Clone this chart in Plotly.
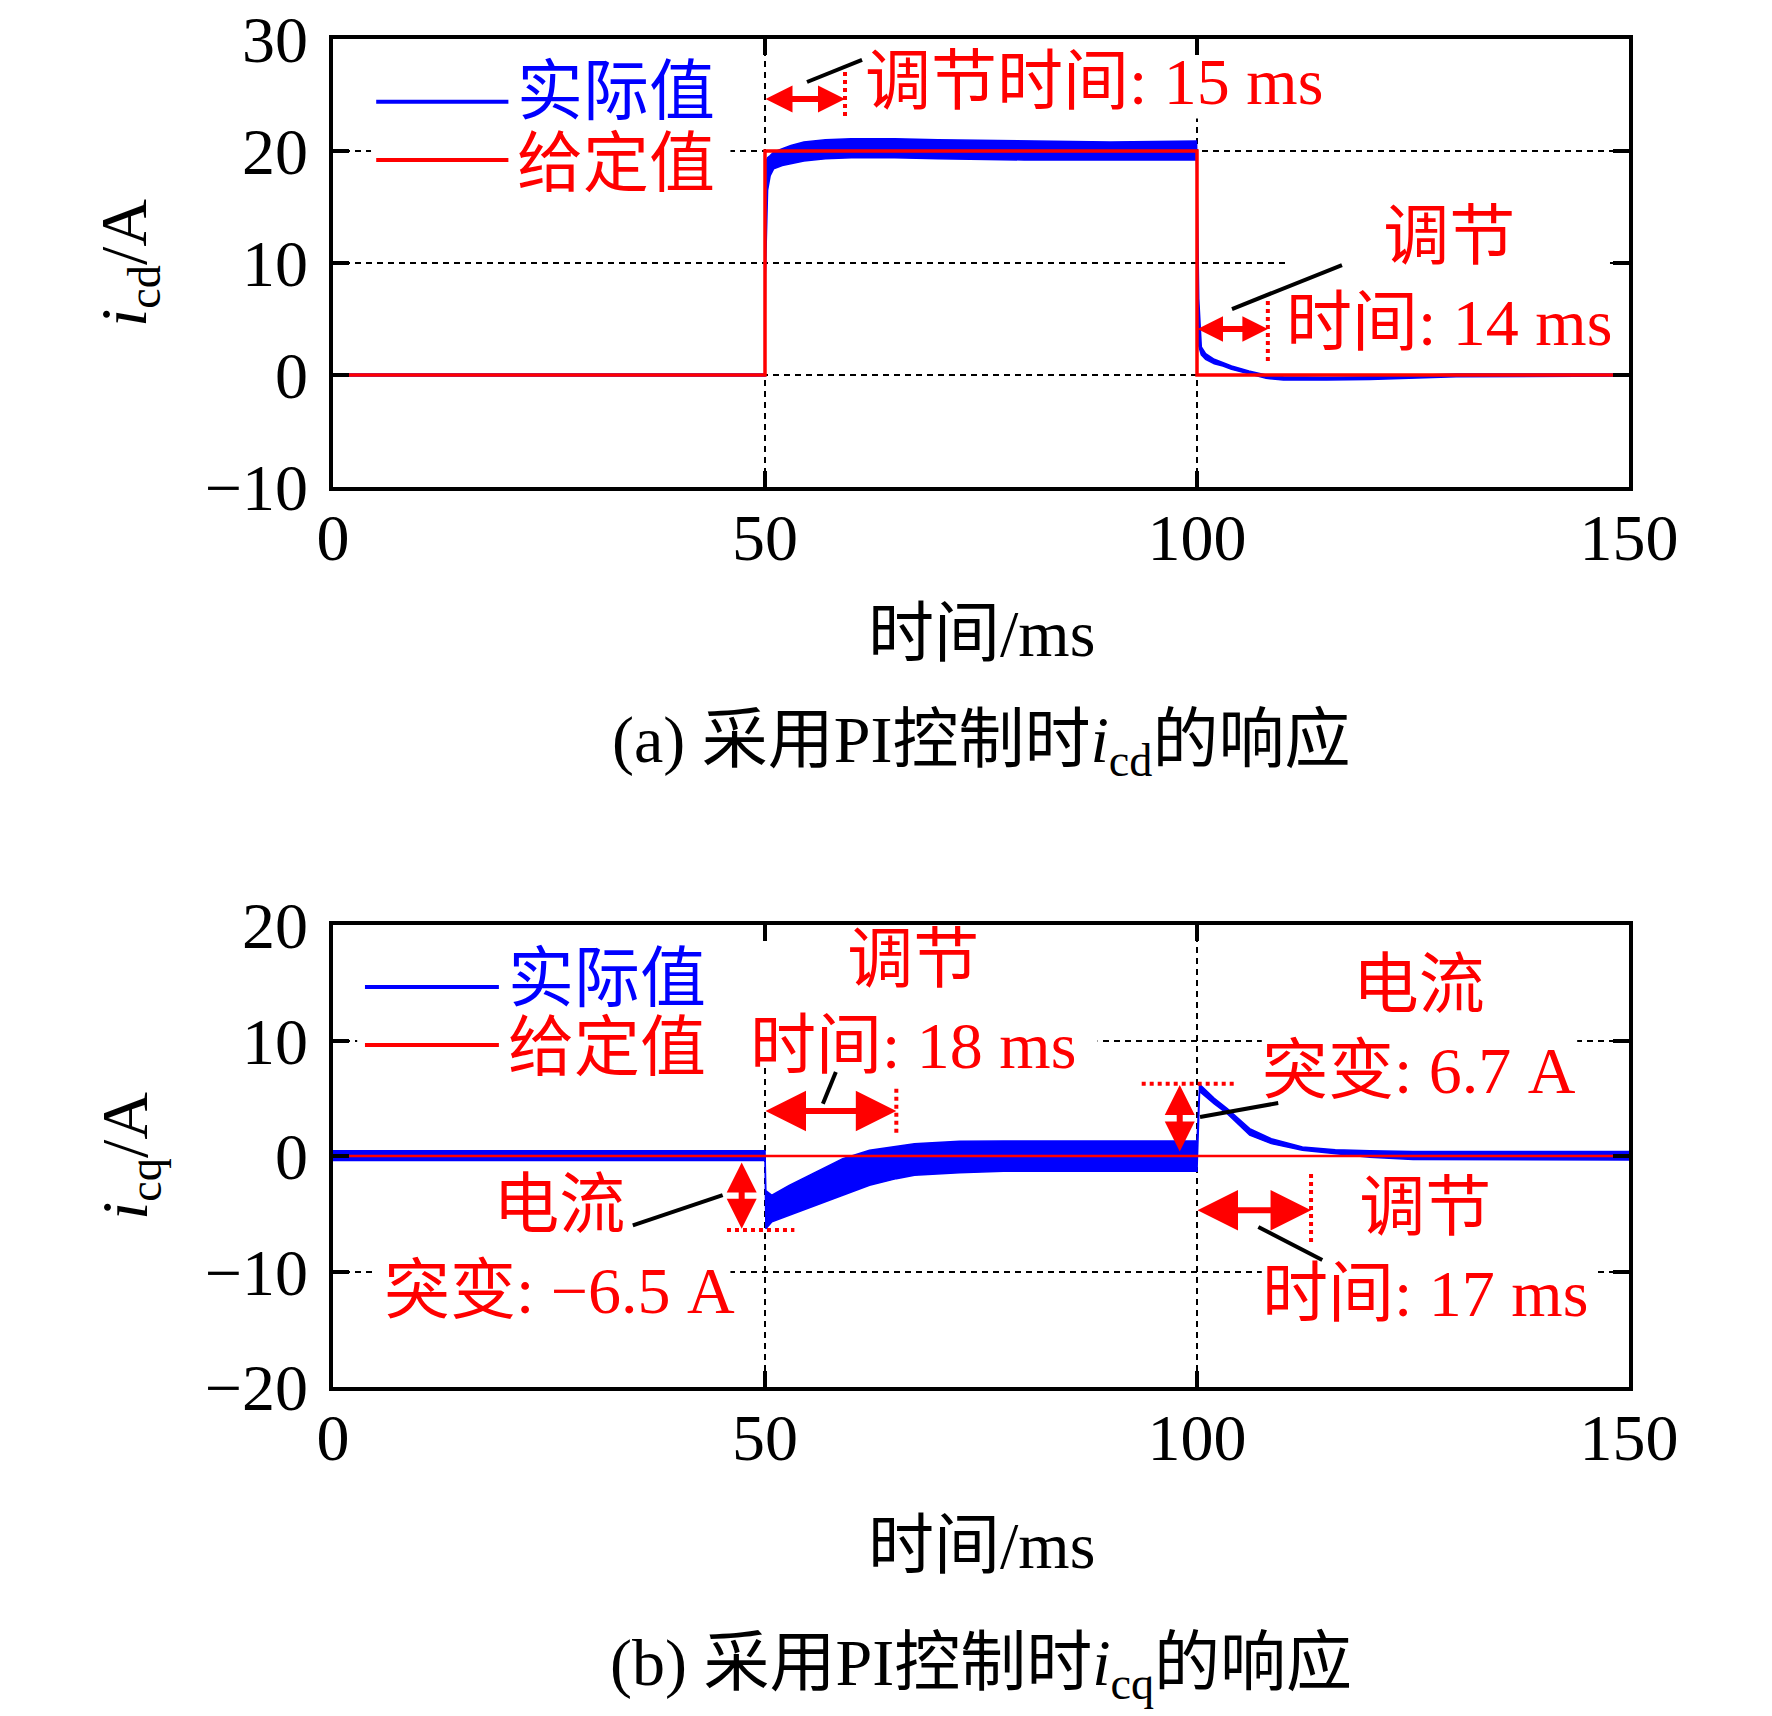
import plotly.graph_objects as go

# --- data (time in ms, current in A) ---
t_ref_d = [0, 50, 50, 100, 100, 150]
i_ref_d = [0, 0, 20, 20, 0, 0]

t_act_d = [0, 50.0, 50.05, 50.3, 50.6, 51.0, 52.0, 53.0, 54.5, 57.0, 60.0, 65.0, 70.0,
           80.0, 90.0, 99.95, 100.2, 100.5, 101.0, 102.0, 103.0, 104.0, 106.0,
           108.0, 110.0, 115.0, 120.0, 125.0, 130.0, 150.0]
i_act_d_hi = [0.1, 0.1, 19.0, 19.4, 19.6, 19.9, 20.2, 20.5, 20.8, 21.0, 21.1, 21.1, 21.0,
              20.9, 20.8, 20.9, 6.8, 2.5, 1.9, 1.4, 1.1, 0.8, 0.35,
              0.0, -0.15, -0.2, -0.15, 0.0, 0.1, 0.1]
i_act_d_lo = [-0.1, -0.1, 9.0, 16.5, 17.8, 18.4, 18.7, 18.9, 19.1, 19.3, 19.4, 19.4, 19.3,
              19.2, 19.2, 19.2, 2.6, 1.8, 1.4, 1.0, 0.8, 0.5, 0.1,
              -0.3, -0.45, -0.45, -0.4, -0.3, -0.15, -0.1]

t_ref_q = [0, 150]
i_ref_q = [0, 0]

t_act_q = [0, 50.0, 50.1, 50.8, 52.8, 55.9, 59.0, 62.1, 65.2, 67.3, 68.3, 72.5, 77.6,
           90.0, 100.0, 100.3, 100.6, 102.0, 103.5, 106.1, 108.6, 112.2, 116.0, 120.0,
           125.0, 150.0]
i_act_q_hi = [0.45, 0.45, -3.0, -3.4, -2.54, -1.39, -0.23, 0.49, 0.8, 1.07, 1.1, 1.27, 1.3,
              1.3, 1.3, 6.2, 6.0, 5.0, 4.1, 2.37, 1.5, 0.78, 0.55, 0.45, 0.4, 0.4]
i_act_q_lo = [-0.4, -0.4, -6.3, -5.7, -5.14, -4.27, -3.4, -2.54, -1.96, -1.67, -1.6, -1.44, -1.33,
              -1.33, -1.33, 5.6, 5.4, 4.5, 3.66, 1.8, 1.07, 0.5, 0.2, -0.1, -0.3, -0.35]

x_ticks = [0, 50, 100, 150]
y_ticks_d = [-10, 0, 10, 20, 30]
y_ticks_q = [-20, -10, 0, 10, 20]
legend_names = ["实际值", "给定值"]

BLUE = "#0000ff"
RED = "#ff0000"
FONT = "Liberation Serif, Times New Roman, Noto Sans CJK SC, serif"
W, H = 1772, 1716
OFF = 6  # page body margin (partly compensated)


def px(x):
    return (x - OFF) / W


def py(y):
    return 1 - (y - OFF) / H


fig = go.Figure()


def band(t, hi, lo, xa, ya):
    fig.add_trace(go.Scatter(
        x=t + t[::-1], y=hi + lo[::-1], xaxis=xa, yaxis=ya,
        fill="toself", fillcolor=BLUE, mode="lines",
        line=dict(color=BLUE, width=1.5), showlegend=False, hoverinfo="skip"))


band(t_act_d, i_act_d_hi, i_act_d_lo, "x", "y")
fig.add_trace(go.Scatter(x=t_ref_d, y=i_ref_d, mode="lines", xaxis="x", yaxis="y",
                         line=dict(color=RED, width=3.5), showlegend=False))
band(t_act_q, i_act_q_hi, i_act_q_lo, "x2", "y2")
fig.add_trace(go.Scatter(x=t_ref_q, y=i_ref_q, mode="lines", xaxis="x2", yaxis="y2",
                         line=dict(color=RED, width=2.5), showlegend=False))

axis_common = dict(
    showline=True, linecolor="black", linewidth=3.5, mirror="ticks",
    ticks="inside", ticklen=16, tickwidth=3.5, tickcolor="black",
    showgrid=True, gridcolor="black", gridwidth=1.5, griddash="6px,5px",
    zeroline=False, automargin=False, ticklabeloverflow="allow",
    tickfont=dict(family=FONT, size=66, color="black"),
)
xdom = [px(331), px(1627)]
fig.update_layout(
    template="none",
    width=W, height=H, margin=dict(l=0, r=0, t=0, b=0),
    paper_bgcolor="white", plot_bgcolor="white",
    xaxis=dict(axis_common, domain=xdom, range=[0, 150], tickvals=x_ticks, anchor="y",
               ticklabelstandoff=-10),
    yaxis=dict(axis_common, domain=[py(485), py(37)], range=[-10, 30],
               tickvals=y_ticks_d, anchor="x", ticklabelstandoff=8),
    xaxis2=dict(axis_common, domain=xdom, range=[0, 150], tickvals=x_ticks, anchor="y2",
                ticklabelstandoff=-10),
    yaxis2=dict(axis_common, domain=[py(1385), py(923)], range=[-20, 20],
                tickvals=y_ticks_q, anchor="x2", ticklabelstandoff=8),
)

shapes = []
annots = []


def blank(x0, x1, y0, y1, xr, yr):
    # white patch that hides the grid behind a label, but not the traces
    shapes.append(dict(type="rect", x0=x0, x1=x1, y0=y0, y1=y1, xref=xr, yref=yr,
                       fillcolor="white", line=dict(width=0), layer="between"))


def txt(text, x, y, xr, yr, color=RED, size=66, xanchor="center", angle=0):
    annots.append(dict(text=text, x=x, y=y, xref=xr, yref=yr, showarrow=False,
                       xanchor=xanchor, yanchor="middle", textangle=angle, align="center",
                       font=dict(family=FONT, size=size, color=color), borderpad=0))


def seg(x0, y0, x1, y1, xr, yr, color="black", width=4, dash="solid"):
    shapes.append(dict(type="line", x0=x0, y0=y0, x1=x1, y1=y1, xref=xr, yref=yr,
                       line=dict(color=color, width=width, dash=dash), layer="above"))


def darrow(x0, y0, x1, y1, xr, yr, size):
    annots.append(dict(text="", x=x1, y=y1, ax=x0, ay=y0, xref=xr, yref=yr,
                       axref=xr, ayref=yr, showarrow=True, arrowside="end+start",
                       arrowhead=2, startarrowhead=2, arrowwidth=6,
                       arrowsize=size, startarrowsize=size, arrowcolor=RED,
                       standoff=0, startstandoff=0, borderpad=0))


# legends (long line symbols, white box hiding grid)
for xr, yr, box, lines, names_y, xl in [
    ("x", "y", (4.4, 46.0, 15.45, 28.8), (24.4, 19.2), (25.3, 18.9), (5.0, 20.3)),
    ("x2", "y2", (2.8, 46.0, 6.84, 18.96), (14.63, 9.6), (15.4, 9.4), (3.7, 19.2)),
]:
    blank(box[0], box[1], box[2], box[3], xr, yr)
    for yv, c in zip(lines, [BLUE, RED]):
        seg(xl[0], yv, xl[1], yv, xr, yr, color=c, width=4)
    for name, yv, c in zip(legend_names, names_y, [BLUE, RED]):
        txt(name, xl[1] + 0.9, yv, xr, yr, color=c, size=66, xanchor="left")

# upper plot annotations
blank(61.4, 114.5, 22.9, 29.6, "x", "y")
txt("调节时间: 15 ms", 61.4, 26.2, "x", "y", xanchor="left")
seg(54.86, 26.16, 61.23, 28.13, "x", "y")
darrow(50, 24.64, 59.26, 24.64, "x", "y", 0.9)
seg(59.26, 27.05, 59.26, 22.77, "x", "y", color=RED, width=4, dash="dot")

blank(110.5, 147.8, 2.4, 14.3, "x", "y")
txt("调节<br>时间: 14 ms", 129.2, 8.5, "x", "y")
seg(104.05, 5.89, 116.78, 9.82, "x", "y")
darrow(100, 4.1, 108.2, 4.1, "x", "y", 0.85)
seg(108.2, 6.6, 108.2, 1.25, "x", "y", color=RED, width=4, dash="dot")

# lower plot annotations
blank(45.0, 88.5, 8.0, 19.5, "x2", "y2")
txt("调节<br>时间: 18 ms", 67.1, 13.3, "x2", "y2")
seg(58.2, 7.27, 56.7, 4.53, "x2", "y2")
darrow(50, 3.9, 65.2, 3.9, "x2", "y2", 1.35)
seg(65.2, 5.83, 65.2, 1.79, "x2", "y2", color=RED, width=4, dash="dot")

blank(107.5, 144.0, 6.0, 16.0, "x2", "y2")
txt("电流<br>突变: 6.7 A", 125.7, 11.1, "x2", "y2")
seg(100.35, 3.38, 109.4, 4.59, "x2", "y2")
darrow(98.0, 0.35, 98.0, 6.15, "x2", "y2", 1.0)
seg(93.6, 6.26, 104.5, 6.26, "x2", "y2", color=RED, width=4, dash="dot")

blank(4.8, 46.0, -13.0, -3.0, "x2", "y2")
txt("电流<br>突变: −6.5 A", 26.2, -7.9, "x2", "y2")
seg(34.7, -6.0, 45.1, -3.38, "x2", "y2")
darrow(47.3, -0.52, 47.3, -6.3, "x2", "y2", 1.0)
seg(45.6, -6.4, 53.4, -6.4, "x2", "y2", color=RED, width=4, dash="dot")

blank(107.5, 146.0, -13.0, -3.0, "x2", "y2")
txt("调节<br>时间: 17 ms", 126.4, -8.2, "x2", "y2")
seg(107.1, -6.15, 114.5, -9.0, "x2", "y2")
darrow(100, -4.7, 113.2, -4.7, "x2", "y2", 1.35)
seg(113.2, -1.56, 113.2, -7.53, "x2", "y2", color=RED, width=4, dash="dot")

# axis titles and captions
txt("<i>i</i><sub>cd</sub>/A", px(127), py(261), "paper", "paper", color="black", angle=-90)
txt("<i>i</i><sub>cq</sub>/A", px(127), py(1154), "paper", "paper", color="black", angle=-90)
txt("时间/ms", px(979), py(631), "paper", "paper", color="black")
txt("时间/ms", px(979), py(1543), "paper", "paper", color="black")
txt("(a) 采用PI控制时<i>i</i><sub>cd</sub>的响应", px(979), py(742), "paper", "paper", color="black")
txt("(b) 采用PI控制时<i>i</i><sub>cq</sub>的响应", px(979), py(1665), "paper", "paper", color="black")

fig.update_layout(shapes=shapes, annotations=annots)
fig.write_html("out.html")
